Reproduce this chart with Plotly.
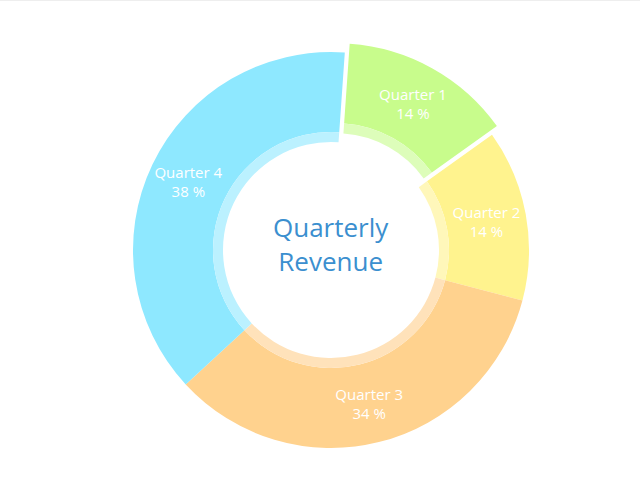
import plotly.graph_objects as go

labels = ["Quarter 1", "Quarter 2", "Quarter 3", "Quarter 4"]
values = [14, 14, 34, 38]
colors = ["#C8FC8C", "#FFF38E", "#FFD28E", "#8EE8FF"]
ring_colors = ["#DDFDBA", "#FFF7BA", "#FFE2BA", "#BBF1FF"]
pulls = [1, 0, 0, 0]
title_text = "Quarterly<br>Revenue"

W, H = 640, 478
cx, cy = 331, 250          # pixel centre (from top)
r_out, r_ring, r_hole = 198, 118, 108
offset = 10
rot = 4

def domain(r, p):
    R = r * (1 + p)
    cyb = H - cy
    return dict(x=[(cx - R) / W, (cx + R) / W], y=[(cyb - R) / H, (cyb + R) / H])

p_main = offset / r_out
p_ring = offset / r_ring

fig = go.Figure()
fig.add_trace(go.Pie(
    labels=labels, values=values, sort=False, direction="clockwise", rotation=rot,
    hole=r_ring / r_out, pull=[p_main * k for k in pulls],
    marker=dict(colors=colors, line=dict(width=0)),
    domain=domain(r_out, p_main),
    texttemplate="%{label}<br>%{value} %", textposition="inside",
    insidetextorientation="horizontal",
    textfont=dict(family="Open Sans", size=15, color="white"),
    hoverinfo="label+percent", showlegend=False,
))
fig.add_trace(go.Pie(
    labels=labels, values=values, sort=False, direction="clockwise", rotation=rot,
    hole=r_hole / r_ring, pull=[p_ring * k for k in pulls],
    marker=dict(colors=ring_colors, line=dict(width=0)),
    domain=domain(r_ring, p_ring),
    textinfo="none", hoverinfo="skip", showlegend=False,
))
fig.add_annotation(
    x=cx / W, y=(H - cy) / H, xref="paper", yref="paper", yshift=6,
    text=title_text, showarrow=False, yanchor="middle",
    font=dict(family="Open Sans", size=26, color="#3B8FCF"),
)
fig.add_shape(type="line", xref="paper", yref="paper", x0=0, x1=1, y0=1, y1=1,
              line=dict(color="#EEEEEE", width=2))
fig.update_layout(
    width=W, height=H, margin=dict(l=0, r=0, t=0, b=0),
    paper_bgcolor="white", plot_bgcolor="white", showlegend=False,
)
fig.write_html("out.html", config={"displayModeBar": False},
               post_script="document.body.style.margin='0';")
